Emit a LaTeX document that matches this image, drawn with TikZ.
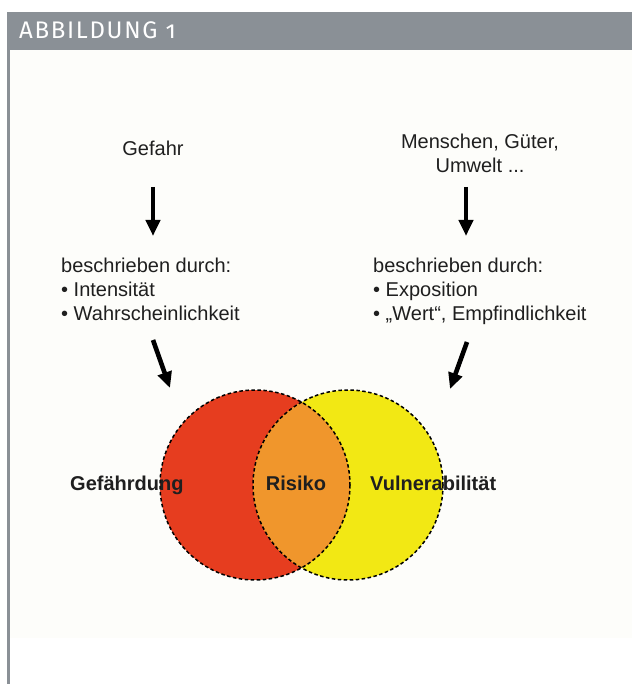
\documentclass[tikz,border=0pt]{standalone}
\usepackage{fontspec}
\setmainfont{Liberation Sans}
\newfontfamily\kopffont{Fira Sans}[Numbers=OldStyle,LetterSpace=7]
\usetikzlibrary{arrows.meta}
\definecolor{balken}{HTML}{8A9096}
\definecolor{papier}{HTML}{FDFDFA}
\definecolor{gfrot}{HTML}{E63D1F}
\definecolor{vgelb}{HTML}{F2E814}
\definecolor{rorange}{HTML}{F0962C}
\tikzset{
  pf/.style={line width=4.6pt,-{Triangle[length=16pt,width=14pt]}},
  txt/.style={inner sep=0pt,font=\fontsize{20}{24}\selectfont,align=left,text=black!88},
  lbl/.style={inner sep=0pt,anchor=base west,font=\fontsize{20}{24}\selectfont\bfseries,text=black!88},
  rand/.style={dash pattern=on 3.5pt off 2.5pt,line width=1.5pt}
}
\newcommand{\kreis}[2]{(#1) circle[radius=#2]}

\begin{document}
\begin{tikzpicture}[x=1pt,y=-1pt]
\useasboundingbox (0,0) rectangle (632,684);
\fill[papier] (10,50) rectangle (632,638);
\fill[balken] (7,12) rectangle (632,50);
\fill[balken] (7,50) rectangle (10,684);
\node[anchor=base west,inner sep=0pt,text=white,font=\kopffont\fontsize{24}{24}\selectfont] (titel) at (19,39) {ABBILDUNG 1};
% Texte oben
\node[txt,anchor=base] (gefahr) at (153,156) {Gefahr};
\node[txt,anchor=north west] (beschrG) at (61,258) {beschrieben durch:\\• Intensität\\• Wahrscheinlichkeit};
\node[txt,anchor=north,align=center] (mensch) at (480,133.5) {Menschen, Güter,\\Umwelt ...};
\node[txt,anchor=north west] (beschrV) at (373,258) {beschrieben durch:\\• Exposition\\• „Wert“, Empfindlichkeit};
% Pfeile
\coordinate (a1) at (153,187); \coordinate (b1) at (153,236);
\coordinate (a2) at (153,340); \coordinate (b2) at (170,388);
\coordinate (a3) at (466,187); \coordinate (b3) at (466,236);
\coordinate (a4) at (467,342); \coordinate (b4) at (450,389);
\draw[pf] (a1) -- (b1); \draw[pf] (a2) -- (b2);
\draw[pf] (a3) -- (b3); \draw[pf] (a4) -- (b4);
% Kreise
\coordinate (mG) at (255,485); \coordinate (mV) at (348,485);
\fill[gfrot] \kreis{mG}{95};
\fill[vgelb] \kreis{mV}{95};
\begin{scope}
\clip \kreis{mG}{95};
\fill[rorange] \kreis{mV}{95};
\end{scope}
\draw[rand] \kreis{mG}{95} \kreis{mV}{95};
\node[lbl] (gefaehrdung) at (70,490) {Gefährdung};
\node[lbl,anchor=base] (risiko) at (296,490) {Risiko};
\node[lbl] (vulner) at (370,490) {Vulnerabilität};
\end{tikzpicture}
\end{document}
